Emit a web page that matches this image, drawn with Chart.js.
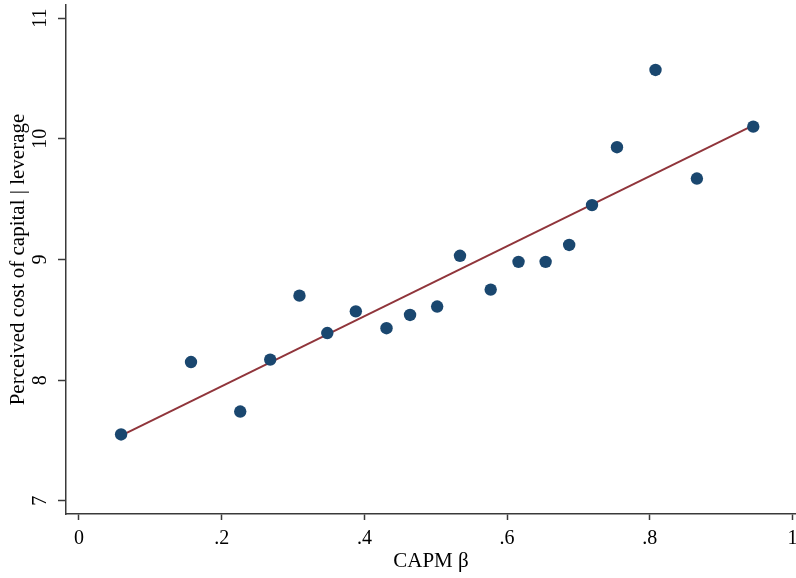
<!DOCTYPE html>
<html>
<head>
<meta charset="utf-8">
<script src="https://cdn.jsdelivr.net/npm/chart.js@4.4.0/dist/chart.umd.min.js"></script>
<style>
html, body { margin: 0; padding: 0; background: #fff; }
#wrap { width: 796px; height: 578px; position: relative; }
</style>
</head>
<body>
<div id="wrap"><canvas id="c" width="796" height="578"></canvas></div>
<script>
// Binned scatter: CAPM beta vs perceived cost of capital | leverage
const betaBins = [0.059, 0.157, 0.226, 0.268, 0.309, 0.348, 0.388, 0.431, 0.464, 0.502,
                  0.534, 0.577, 0.616, 0.654, 0.687, 0.719, 0.754, 0.808, 0.866, 0.945];
const costValues = [7.55, 8.15, 7.74, 8.17, 8.70, 8.39, 8.57, 8.43, 8.54, 8.61,
                    9.03, 8.75, 8.98, 8.98, 9.12, 9.45, 9.93, 10.57, 9.67, 10.10];
const fitX = [0.059, 0.945];
const fitY = [7.54, 10.11];
const xTickValues = [0, 0.2, 0.4, 0.6, 0.8, 1];
const xTickLabels = ['0', '.2', '.4', '.6', '.8', '1'];
const yTickValues = [7, 8, 9, 10, 11];
const yTickLabels = ['7', '8', '9', '10', '11'];

const FONT = '"Liberation Serif", "Times New Roman", serif';
const AXIS = '#3a3a3a';

const yLabelPlugin = {
  id: 'yLabels',
  afterDraw(chart) {
    const ys = chart.scales.y;
    const ctx = chart.ctx;
    ctx.save();
    ctx.fillStyle = '#000';
    ctx.font = '20px ' + FONT;
    ctx.textAlign = 'center';
    ctx.textBaseline = 'middle';
    yTickValues.forEach((v, i) => {
      const py = ys.getPixelForValue(v);
      ctx.save();
      ctx.translate(ys.right - 25, py);
      ctx.rotate(-Math.PI / 2);
      ctx.fillText(yTickLabels[i], 0, 0);
      ctx.restore();
    });
    ctx.restore();
  }
};

new Chart(document.getElementById('c'), {
  type: 'scatter',
  data: {
    datasets: [
      {
        label: 'bins',
        data: betaBins.map((x, i) => ({ x: x, y: costValues[i] })),
        backgroundColor: '#1a476f',
        borderColor: '#1a476f',
        pointRadius: 6.2,
        pointBorderWidth: 0,
        order: 1
      },
      {
        label: 'fit',
        type: 'line',
        data: fitX.map((x, i) => ({ x: x, y: fitY[i] })),
        borderColor: '#90353b',
        borderWidth: 2,
        pointRadius: 0,
        fill: false,
        order: 2
      }
    ]
  },
  options: {
    responsive: false,
    animation: false,
    devicePixelRatio: 1,
    layout: { autoPadding: false, padding: { top: 5, right: 0, bottom: 0, left: 0 } },
    plugins: { legend: { display: false }, tooltip: { enabled: false } },
    scales: {
      x: {
        type: 'linear',
        min: -0.0182,
        max: 1.0049,
        afterBuildTicks(scale) { scale.ticks = xTickValues.map(v => ({ value: v })); },
        afterFit(scale) { scale.height = 64; scale.paddingLeft = 0; scale.paddingRight = 0; },
        border: { display: true, color: AXIS, width: 1.5 },
        grid: { drawOnChartArea: false, drawTicks: true, tickLength: 6, tickColor: AXIS, tickWidth: 1.5 },
        ticks: {
          color: '#000',
          font: { family: FONT, size: 20 },
          padding: 7,
          maxRotation: 0,
          callback(v) { const i = xTickValues.findIndex(t => Math.abs(t - v) < 1e-9); return i >= 0 ? xTickLabels[i] : ''; }
        },
        title: { display: true, text: 'CAPM β', color: '#000', font: { family: FONT, size: 21 }, padding: { top: 0, bottom: 4 } }
      },
      y: {
        type: 'linear',
        min: 6.891,
        max: 11.108,
        afterBuildTicks(scale) { scale.ticks = yTickValues.map(v => ({ value: v })); },
        afterFit(scale) { scale.width = 66; scale.paddingTop = 0; scale.paddingBottom = 0; },
        border: { display: true, color: AXIS, width: 1.5 },
        grid: { drawOnChartArea: false, drawTicks: true, tickLength: 8, tickColor: AXIS, tickWidth: 1.5 },
        ticks: { display: false },
        title: { display: true, text: 'Perceived cost of capital | leverage', color: '#000', font: { family: FONT, size: 21 }, padding: { top: 6, bottom: 0 } }
      }
    }
  },
  plugins: [yLabelPlugin]
});
</script>
</body>
</html>
